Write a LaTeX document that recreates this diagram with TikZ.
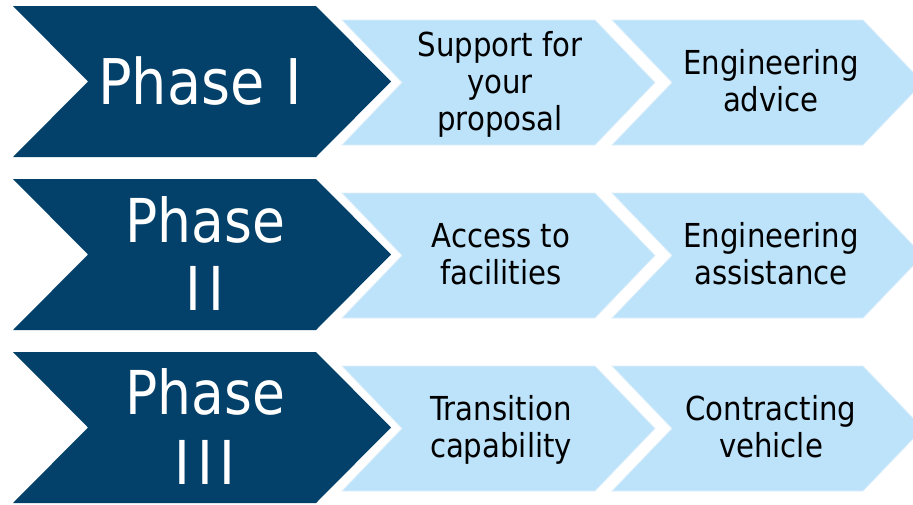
\documentclass[tikz,border=0pt]{standalone}
\usepackage{fontspec}
\setmainfont{DejaVu Sans}[FakeStretch=0.885]
\definecolor{navy}{HTML}{03416A}
\definecolor{skyfill}{HTML}{BDE3FA}
\definecolor{skyedge}{HTML}{DDEFFA}
\newcommand{\chevpath}[5]{% x y w h d
  (#1,#2) -- ({#1+#3},#2) -- ({#1+#3+#5},{#2+#4/2}) -- ({#1+#3},{#2+#4}) -- (#1,{#2+#4}) -- ({#1+#5},{#2+#4/2}) -- cycle}
\tikzset{
  darkchev/.style={fill=navy, draw=none},
  lightchev/.style={fill=skyfill, draw=skyedge, line width=0.8pt},
  phasetxt/.style={text=white, inner sep=0pt, align=center},
  steptxt/.style={text=black, inner sep=0pt, align=center, font=\fontsize{33}{37}\selectfont},
}
\begin{document}
\begin{tikzpicture}[x=1pt,y=-1pt]
\useasboundingbox (0,0) rectangle (913,504);
\clip (0,0) rectangle (913,504);
\foreach \k in {0,1,2}{
  \path[darkchev] \chevpath{13}{6+173*\k}{303}{151}{75};
  \path[lightchev] \chevpath{342}{20+173*\k}{253}{125}{60};
  \path[lightchev] \chevpath{612}{20+173*\k}{251}{125}{60};
}
% dark chevron texts (anchor=base = baseline of the last line)
\node[phasetxt, anchor=base, font=\fontsize{63}{68}\selectfont] (p1) at (200,104) {Phase\ \kern3pt I};
\node[phasetxt, anchor=base, font=\fontsize{60.5}{68}\selectfont] (p2) at (205,310) {Phase\\I\kern7pt I};
\node[phasetxt, anchor=base, font=\fontsize{60.5}{70}\selectfont] (p3) at (205,484) {Phase\\I\kern7pt I\kern7pt I};
% light chevron texts
\node[steptxt, anchor=base] (s11) at (500,130) {Support for\\your\\proposal};
\node[steptxt, anchor=base] (s12) at (771,111) {Engineering\\advice};
\node[steptxt, anchor=base] (s21) at (501,284) {Access to\\facilities};
\node[steptxt, anchor=base] (s22) at (771,284) {Engineering\\assistance};
\node[steptxt, anchor=base] (s31) at (501,457) {Transition\\capability};
\node[steptxt, anchor=base] (s32) at (771,457) {Contracting\\vehicle};
\end{tikzpicture}
\end{document}
